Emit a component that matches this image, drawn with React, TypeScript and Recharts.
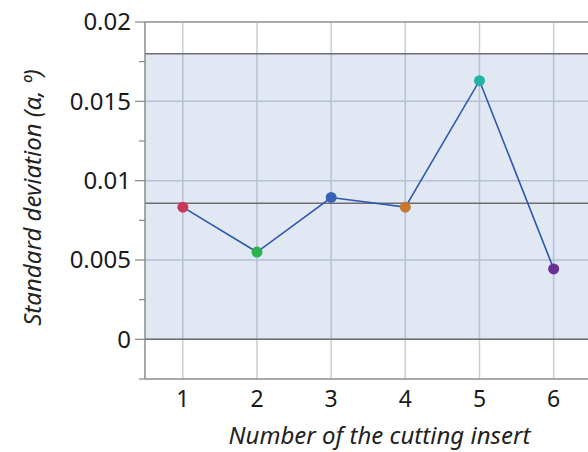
import React from "react";
import {
  ComposedChart,
  Line,
  XAxis,
  YAxis,
  CartesianGrid,
  ReferenceArea,
  ReferenceLine,
  Label,
} from "recharts";

const inserts = [1, 2, 3, 4, 5, 6];
const stdDev = [0.00833, 0.0055, 0.00894, 0.00833, 0.0163, 0.00444];
const pointColors = ["#c8385a", "#2bb24c", "#3a62b4", "#c7782c", "#22b4a0", "#6a2f98"];

const centerLine = 0.00858;
const upperLimit = 0.018;
const lowerLimit = 0;

const yTicks = [-0.0025, 0, 0.0025, 0.005, 0.0075, 0.01, 0.0125, 0.015, 0.0175, 0.02];
const yTickLabels = ["", "0", "", "0.005", "", "0.01", "", "0.015", "", "0.02"];
const yGridValues = [0, 0.005, 0.01, 0.015, 0.02];

const data = inserts.map((x, i) => ({ x, y: stdDev[i] }));

const FONT = "'Noto Sans', 'Open Sans', sans-serif";

const YTick = (props: any) => {
  const { x, y, index } = props;
  const label = yTickLabels[index];
  const major = label !== "";
  return (
    <g>
      <line x1={x - (major ? 10 : 6)} x2={x} y1={y} y2={y} stroke="#888" strokeWidth={1.2} />
      {major && (
        <text
          x={x - 14}
          y={y}
          dy="0.35em"
          textAnchor="end"
          fontFamily={FONT}
          fontSize={24}
          fill="#1a1a1a"
        >
          {label}
        </text>
      )}
    </g>
  );
};

const Dot = (props: any) => {
  const { cx, cy, index } = props;
  return <circle cx={cx} cy={cy} r={5.5} fill={pointColors[index]} stroke="none" />;
};

export default function App() {
  return (
    <div
      style={{
        position: "absolute",
        left: 0,
        top: 0,
        width: 588,
        height: 452,
        overflow: "hidden",
        background: "#fff",
      }}
    >
      <ComposedChart
        width={600}
        height={452}
        data={data}
        margin={{ top: 22, right: 10, bottom: 0, left: 0 }}
      >
        <ReferenceArea
          y1={lowerLimit}
          y2={upperLimit}
          fill="#698cc8"
          fillOpacity={0.2}
          stroke="none"
        />
        <CartesianGrid
          stroke="#c9ced8"
          strokeWidth={1.5}
          horizontalValues={yGridValues}
          verticalValues={inserts}
        />
        <XAxis
          dataKey="x"
          type="number"
          domain={[0.49, 6.49]}
          ticks={inserts}
          allowDataOverflow
          height={73}
          tickSize={0}
          tickMargin={12}
          axisLine={{ stroke: "#8c8c8c", strokeWidth: 1.5 }}
          tick={{ fontSize: 23, fill: "#1a1a1a", fontFamily: FONT }}
        >
          <Label
            value="Number of the cutting insert"
            position="insideBottom"
            offset={8}
            dx={12}
            style={{ fontSize: 24, fontStyle: "italic", fill: "#222", fontFamily: FONT }}
          />
        </XAxis>
        <YAxis
          type="number"
          domain={[-0.0025, 0.02]}
          ticks={yTicks}
          interval={0}
          width={145}
          tickSize={0}
          tickMargin={0}
          axisLine={{ stroke: "#8c8c8c", strokeWidth: 1.5 }}
          tickLine={false}
          tick={<YTick />}
        >
          <Label
            value="Standard deviation (α, º)"
            angle={-90}
            position="insideLeft"
            offset={32}
            dy={-3}
            style={{ fontSize: 24, fontStyle: "italic", fill: "#222", fontFamily: FONT, textAnchor: "middle" }}
          />
        </YAxis>
        <ReferenceLine y={0.02} stroke="#9a9a9a" strokeWidth={1.5} />
        <ReferenceLine y={upperLimit} stroke="#6e6e6e" strokeWidth={1.5} />
        <ReferenceLine y={centerLine} stroke="#6e6e6e" strokeWidth={1.5} />
        <ReferenceLine y={lowerLimit} stroke="#6e6e6e" strokeWidth={1.5} />
        <Line
          dataKey="y"
          stroke="#2c57b0"
          strokeWidth={1.6}
          dot={<Dot />}
          activeDot={false}
          isAnimationActive={false}
        />
      </ComposedChart>
    </div>
  );
}
